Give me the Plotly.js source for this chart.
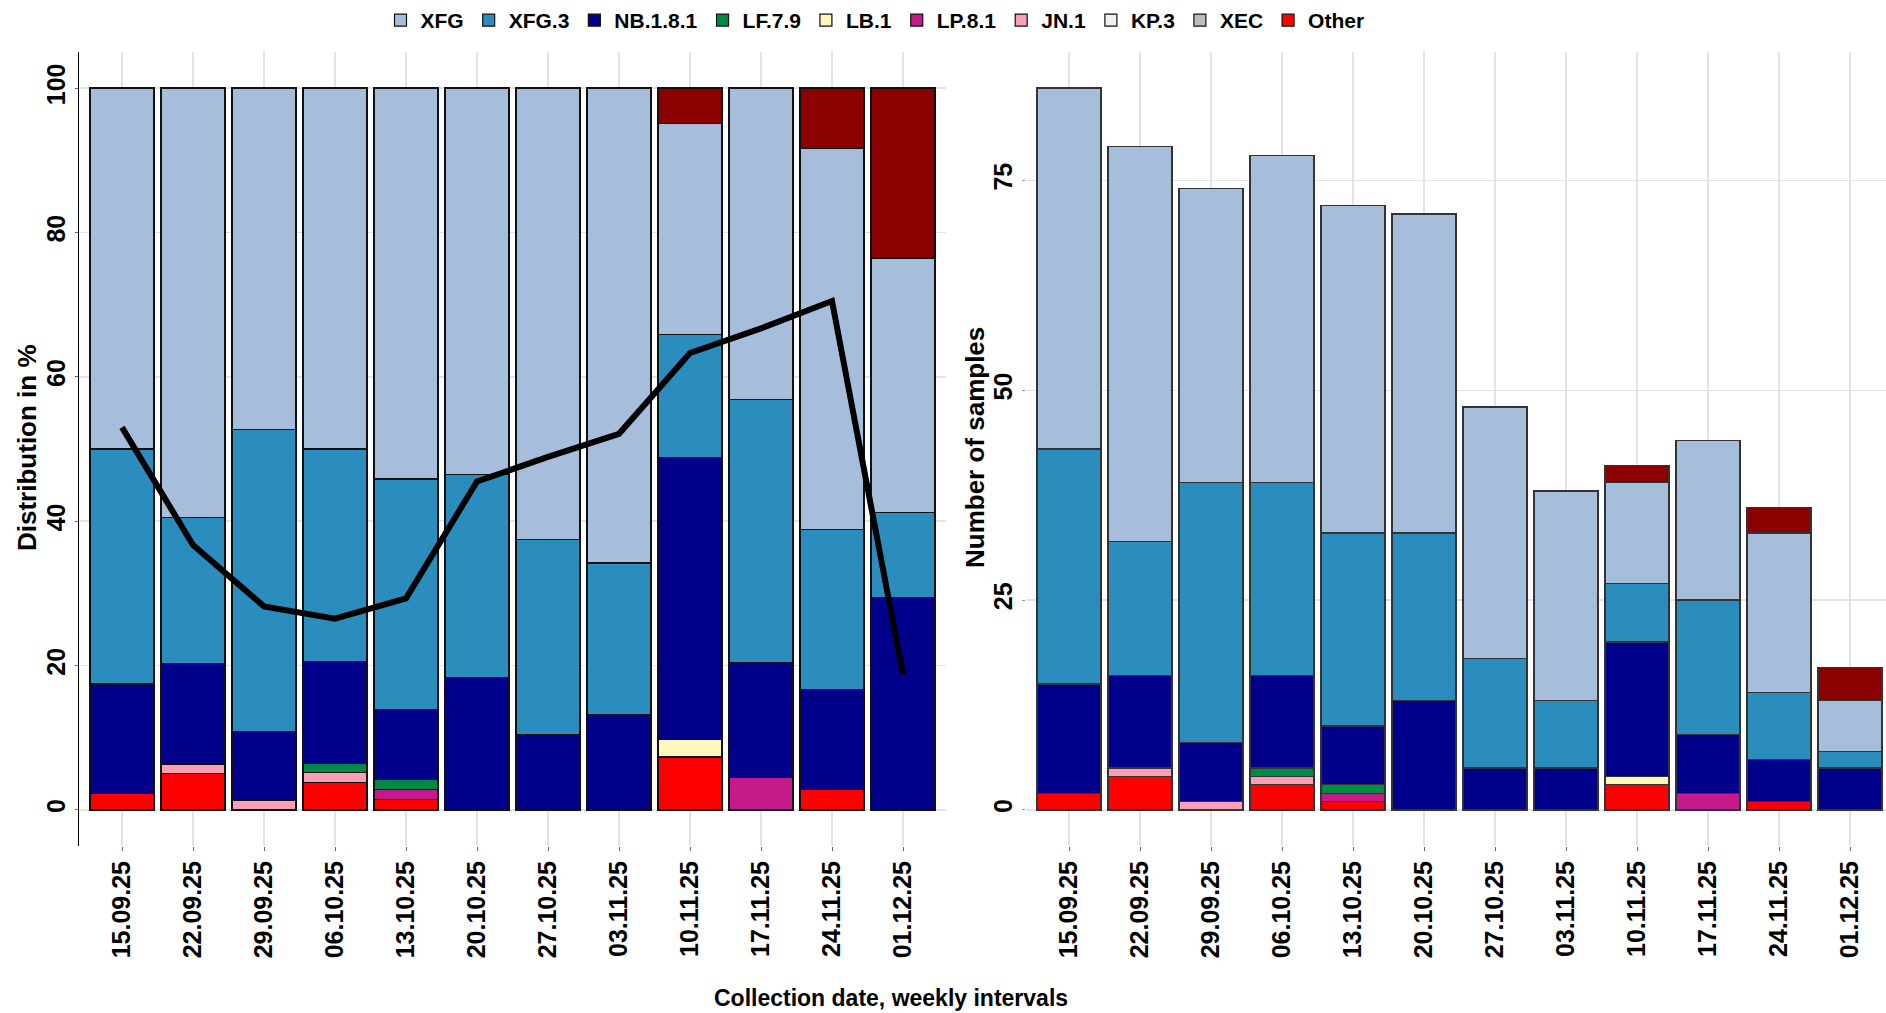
<!DOCTYPE html>
<html>
<head>
<meta charset="utf-8">
<script src="https://cdn.plot.ly/plotly-3.0.1.min.js"></script>
<style>
html,body{margin:0;padding:0;background:#fff;}
#chart{width:1886px;height:1013px;}
</style>
</head>
<body>
<div id="chart"></div>
<script>
// ---- data (sample counts per week) ----
const dates = ["15.09.25","22.09.25","29.09.25","06.10.25","13.10.25","20.10.25","27.10.25","03.11.25","10.11.25","17.11.25","24.11.25","01.12.25"];
const other   = [2,4,0,3,1,0,0,0,3,0,1,0];
const xec     = [0,0,0,0,0,0,0,0,0,0,0,0];
const kp3     = [0,0,0,0,0,0,0,0,0,0,0,0];
const jn1     = [0,1,1,1,0,0,0,0,0,0,0,0];
const lp81    = [0,0,0,0,1,0,0,0,0,2,0,0];
const lb1     = [0,0,0,0,0,0,0,0,1,0,0,0];
const lf79    = [0,0,0,1,1,0,0,0,0,0,0,0];
const nb181   = [13,11,7,11,7,13,5,5,16,7,5,5];
const xfg3    = [28,16,31,23,23,20,13,8,7,16,8,2];
const xfg     = [43,47,35,39,39,38,30,25,12,19,19,6];
const unlisted= [0,0,0,0,0,0,0,0,2,0,3,4];
const lineValues = [53,36.7,28.2,26.5,29.3,45.5,48.9,52.1,63.3,66.7,70.5,18.8];

// stacking order bottom -> top
const seriesNames  = ["Other","XEC","KP.3","JN.1","LP.8.1","LB.1","LF.7.9","NB.1.8.1","XFG.3","XFG",""];
const seriesData   = [other,xec,kp3,jn1,lp81,lb1,lf79,nb181,xfg3,xfg,unlisted];
const seriesColors = ["#FF0000","#BDBDBD","#F0F0F0","#FA9FB5","#C51B8A","#FFF7BC","#008B45","#00008B","#2B8CBE","#A6BDDB","#8B0000"];

const totals = dates.map((d,i)=>seriesData.reduce((s,arr)=>s+arr[i],0));
const nz = v => (v===0 ? null : v);

const traces = [];
seriesNames.forEach((name,k)=>{
  const inLegend = name !== "";
  traces.push({
    type:'bar', x:dates, y:seriesData[k].map((v,i)=>nz(v/totals[i]*100)),
    name: name || "n/a", legendgroup: name || "na", showlegend: inLegend,
    marker:{color:seriesColors[k], line:{color:'#111', width:1.2}},
    width:0.9, xaxis:'x', yaxis:'y', hoverinfo:'skip'
  });
  traces.push({
    type:'bar', x:dates, y:seriesData[k].map(nz),
    name: name || "n/a", legendgroup: name || "na", showlegend:false,
    marker:{color:seriesColors[k], line:{color:'#333', width:1.2}},
    width:0.9, xaxis:'x2', yaxis:'y2', hoverinfo:'skip'
  });
});
traces.push({
  type:'scatter', mode:'lines', x:dates, y:lineValues,
  line:{color:'#000', width:6}, showlegend:false, xaxis:'x', yaxis:'y', hoverinfo:'skip'
});

const W = 1886, H = 1013;
const tickFont = {family:'Liberation Sans, Arial, sans-serif', size:25, weight:'bold', color:'#000'};
const grid = '#E3E3E3';
const yDom = [(H-846)/H, (H-52)/H];

const layout = {
  width:W, height:H,
  margin:{l:0,r:0,t:0,b:0,autoexpand:false},
  paper_bgcolor:'#fff', plot_bgcolor:'rgba(0,0,0,0)',
  barmode:'stack', bargap:0.1,
  showlegend:true,
  legend:{orientation:'h', x:875/W, xanchor:'center', y:1, yanchor:'top',
          traceorder:'reversed', font:{family:'Liberation Sans, Arial, sans-serif', size:21, weight:'bold', color:'#000'},
          itemwidth:30, tracegroupgap:0, bgcolor:'rgba(0,0,0,0)'},
  xaxis:{domain:[79.4/W, 945.6/W], type:'category', range:[-0.6,11.6], anchor:'y',
         showgrid:true, gridcolor:grid, gridwidth:1.5, zeroline:false, showline:false,
         ticks:'outside', ticklen:4, tickcolor:'#666', tickangle:-90, tickfont:tickFont},
  yaxis:{domain:yDom, range:[-5,105], anchor:'x', tickvals:[0,20,40,60,80,100],
         showgrid:true, gridcolor:grid, gridwidth:1.5, zeroline:false,
         showline:true, linecolor:'#000', linewidth:1.5,
         ticks:'outside', ticklen:3, tickcolor:'#666', tickangle:-90, tickfont:tickFont},
  xaxis2:{domain:[1026.4/W, 1], type:'category', range:[-0.6,(1886-1069)/71], anchor:'y2',
         showgrid:true, gridcolor:grid, gridwidth:1.5, zeroline:false, showline:false,
         ticks:'outside', ticklen:4, tickcolor:'#666', tickangle:-90, tickfont:tickFont},
  yaxis2:{domain:yDom, range:[-4.3,90.3], anchor:'x2', tickvals:[0,25,50,75],
         showgrid:true, gridcolor:grid, gridwidth:1.5, zeroline:false, showline:false,
         ticks:'outside', ticklen:3, tickcolor:'#999', tickangle:-90, tickfont:tickFont},
  annotations:[
    {text:'Distribution in %', xref:'paper', yref:'paper', x:27/W, y:(H-448)/H, xanchor:'center', yanchor:'middle',
     textangle:-90, showarrow:false, font:{family:'Liberation Sans, Arial, sans-serif', size:26, weight:'bold', color:'#000'}},
    {text:'Number of samples', xref:'paper', yref:'paper', x:975/W, y:(H-448)/H, xanchor:'center', yanchor:'middle',
     textangle:-90, showarrow:false, font:{family:'Liberation Sans, Arial, sans-serif', size:26, weight:'bold', color:'#000'}},
    {text:'Collection date, weekly intervals', xref:'paper', yref:'paper', x:891/W, y:(H-998)/H, xanchor:'center', yanchor:'middle',
     showarrow:false, font:{family:'Liberation Sans, Arial, sans-serif', size:23, weight:'bold', color:'#000'}}
  ]
};

Plotly.newPlot('chart', traces, layout, {staticPlot:true, displayModeBar:false});
</script>
</body>
</html>
